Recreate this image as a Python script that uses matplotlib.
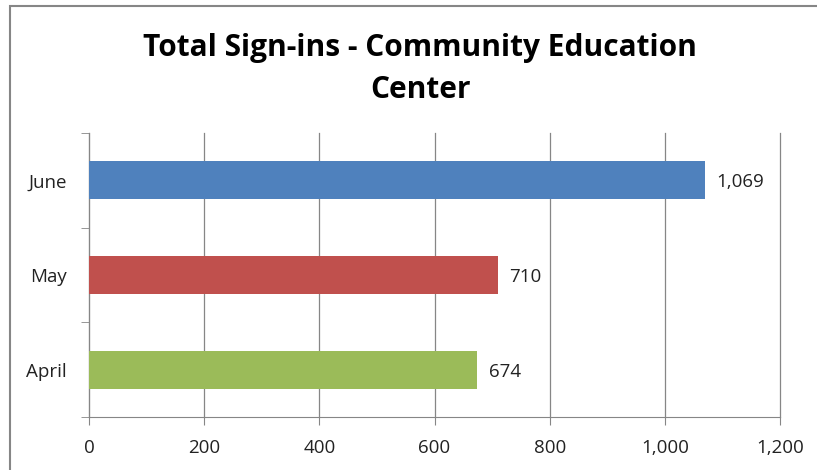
import matplotlib.pyplot as plt
from matplotlib.patches import Rectangle

months = ['April', 'May', 'June']
sign_ins = [674, 710, 1069]
colors = ['#9BBB59', '#C0504D', '#4F81BD']
x_ticks = [0, 200, 400, 600, 800, 1000, 1200]

plt.rcParams['font.family'] = ['Open Sans', 'DejaVu Sans']

fig = plt.figure(figsize=(8.17, 4.70), dpi=100)
ax = fig.add_axes([89 / 817, 1 - 417 / 470, (780 - 89) / 817, (417 - 133) / 470])

# chart frame (clipped at right and bottom)
fig.patches.append(Rectangle((10 / 817, -0.2), 1.2, 1 - 6 / 470 + 0.2,
                             transform=fig.transFigure, fill=False,
                             edgecolor='#868686', linewidth=1.5))

pos = range(len(months))
ax.barh(pos, sign_ins, height=0.4, color=colors, zorder=3)
for p, v in zip(pos, sign_ins):
    ax.text(v + 20, p, f'{v:,}', va='center_baseline', ha='left',
            fontsize=13.5, color='#222222')

ax.set_xlim(0, 1200)
ax.set_ylim(-0.5, 2.5)
ax.set_xticks(x_ticks)
ax.set_xticklabels([f'{t:,}' for t in x_ticks], fontsize=13.5, color='#222222')
ax.set_yticks(pos)
ax.set_yticklabels(months, fontsize=13.5, color='#222222', va='center_baseline')
ax.set_yticks([-0.5, 0.5, 1.5, 2.5], minor=True)
ax.tick_params(axis='y', which='major', length=0, pad=16)
ax.tick_params(axis='y', which='minor', length=6, color='#868686', direction='out')
ax.tick_params(axis='x', length=6, color='#868686', pad=10)

ax.grid(axis='x', color='#868686', linewidth=0.9, zorder=0)
for gl in ax.get_xgridlines():
    gl.set_clip_on(False)
for side in ['top', 'right']:
    ax.spines[side].set_visible(False)
for side in ['left', 'bottom']:
    ax.spines[side].set_color('#868686')

fig.text(420 / 817, 1 - 69 / 470, 'Total Sign-ins - Community Education\nCenter',
         ha='center', va='center', fontsize=21.5, fontweight='bold', linespacing=1.5)

fig.savefig('out.png', dpi=100)
